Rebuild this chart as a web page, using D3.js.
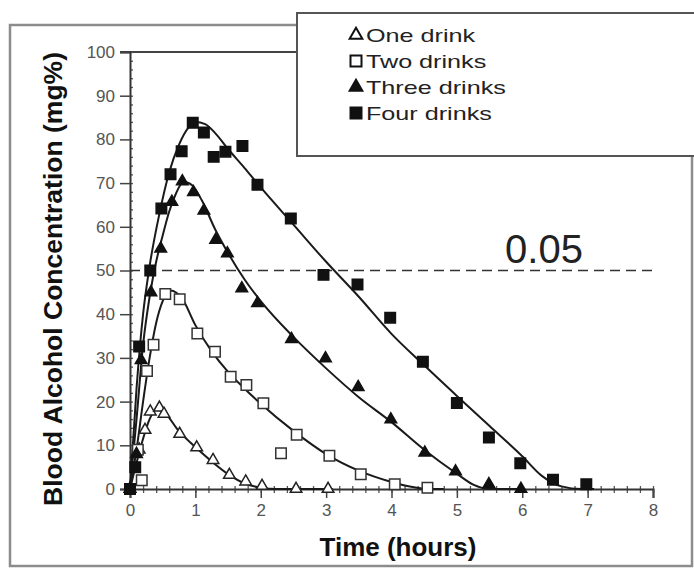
<!DOCTYPE html>
<html><head><meta charset="utf-8">
<script src="https://cdn.jsdelivr.net/npm/d3@7/dist/d3.min.js"></script>
<style>body{margin:0;background:#fff}svg{display:block}</style>
</head><body>
<svg id="c" width="694" height="570"></svg>
<script>
// ---- data ----
const seriesNames = ["One drink", "Two drinks", "Three drinks", "Four drinks"];
const oneDrink = [[0,0],[0.14,9],[0.23,13.5],[0.31,17.7],[0.45,18.6],[0.52,17.2],[0.76,12.6],[1.02,9.5],[1.27,6.6],[1.52,3.2],[1.77,1.7],[2.02,0.7],[2.54,0],[3.03,0]];
const twoDrinks = [[0,0],[0.12,9],[0.18,2],[0.26,27],[0.36,33],[0.54,44.6],[0.76,43.4],[1.03,35.6],[1.3,31.4],[1.54,25.7],[1.78,23.8],[2.04,19.6],[2.31,8.2],[2.55,12.4],[3.05,7.6],[3.53,3.4],[4.05,1.1],[4.55,0.3]];
const threeDrinks = [[0,0],[0.1,8],[0.17,29.5],[0.32,45],[0.47,55],[0.64,65.7],[0.8,70.4],[0.97,67.9],[1.13,63.7],[1.31,57],[1.49,53.9],[1.71,45.9],[1.95,42.5],[2.47,34.3],[2.99,29.9],[3.49,23.3],[3.99,15.9],[4.51,8.3],[4.98,4.0],[5.49,1.1],[5.98,0]];
const fourDrinks = [[0,0],[0.08,5],[0.14,32.6],[0.31,50],[0.48,64.2],[0.62,72],[0.79,77.3],[0.96,83.8],[1.13,81.6],[1.28,76],[1.46,77.2],[1.72,78.5],[1.95,69.6],[2.46,61.9],[2.96,49],[3.48,46.8],[3.98,39.2],[4.48,29.1],[5.0,19.7],[5.49,11.8],[5.97,5.9],[6.47,2.1],[6.98,1.1]];
// fitted curves
const fitOne = [[0,0],[0.1,6],[0.2,11.5],[0.3,16],[0.4,18.2],[0.5,17.8],[0.75,13.2],[1,9.6],[1.25,6.3],[1.5,3.4],[1.75,1.3],[2.0,0.3],[2.25,0],[3.1,0]];
const fitTwo = [[0,0],[0.1,9],[0.2,20],[0.3,30],[0.4,38],[0.5,43],[0.62,45.4],[0.8,43.5],[1.0,37.5],[1.25,31.5],[1.5,26.8],[1.75,23],[2.0,19.5],[2.5,13.3],[3.0,8],[3.5,4.2],[4.0,1.6],[4.3,0.5],[4.6,0],[4.8,0]];
const fitThree = [[0,0],[0.1,16],[0.2,33],[0.3,44],[0.4,52],[0.5,58],[0.6,63.5],[0.7,67.5],[0.82,70.3],[0.95,69.5],[1.1,66],[1.3,59.5],[1.5,54],[1.75,48],[2.0,43],[2.5,34.8],[3.0,27.6],[3.5,21],[4.0,15.3],[4.5,9],[5.0,3.5],[5.25,1],[5.5,0],[6.0,0]];
const fitFour = [[0,0],[0.1,23],[0.2,40],[0.3,51],[0.45,63],[0.6,72.5],[0.75,78.8],[0.9,82.8],[1.0,84],[1.15,83.5],[1.3,81.5],[1.5,77.8],[1.75,73.5],[2.0,69],[2.5,60.5],[3.0,52],[3.5,44],[4.0,35.5],[4.5,28.3],[5.0,21.3],[5.5,14.4],[6.0,7.5],[6.3,3],[6.6,0.6],[6.9,0],[7.1,0]];
const xTicks = [0,1,2,3,4,5,6,7,8];
const yTicks = [0,10,20,30,40,50,60,70,80,90,100];
const thresholdValue = 50;
const thresholdLabel = "0.05";
const xTitle = "Time (hours)";
const yTitle = "Blood Alcohol Concentration (mg%)";

// ---- drawing ----
const svg = d3.select("#c");
const font = "'Liberation Sans', Arial, Helvetica, sans-serif";
const x = d3.scaleLinear().domain([0, 8]).range([130, 653]);
const y = d3.scaleLinear().domain([0, 100]).range([489, 52]);

// outer frame
svg.append("rect").attr("x", 10).attr("y", 25).attr("width", 682).attr("height", 541)
  .attr("fill", "none").attr("stroke", "#8c8c8c").attr("stroke-width", 2.5);

// top line of plot
svg.append("line").attr("x1", 120).attr("x2", x(8)).attr("y1", y(100)).attr("y2", y(100))
  .attr("stroke", "#444").attr("stroke-width", 2);

// y axis
const gy = svg.append("g").attr("transform", `translate(${x(0)},0)`);
gy.call(d3.axisLeft(y).tickValues(d3.range(0, 101, 2)).tickSize(4).tickFormat(""))
  .call(g => g.select(".domain").remove());
gy.selectAll(".tick line").attr("x2", 3).attr("stroke", "#555").attr("stroke-width", 1.3);
const gy2 = svg.append("g").attr("transform", `translate(${x(0)},0)`);
gy2.call(d3.axisLeft(y).tickValues(yTicks).tickSize(10).tickPadding(5));
gy2.select(".domain").attr("stroke", "#333").attr("stroke-width", 2);
gy2.selectAll(".tick line").attr("stroke", "#444").attr("stroke-width", 1.5);
gy2.selectAll(".tick text").attr("font-family", font).attr("font-size", 17).attr("fill", "#555");

// x axis
const gx = svg.append("g").attr("transform", `translate(0,${y(0)})`);
gx.call(d3.axisBottom(x).tickValues(d3.range(0, 8.01, 0.2)).tickSize(4).tickFormat(""))
  .call(g => g.select(".domain").remove());
gx.selectAll(".tick line").attr("y1", -3).attr("stroke", "#555").attr("stroke-width", 1.3);
const gx2 = svg.append("g").attr("transform", `translate(0,${y(0)})`);
gx2.call(d3.axisBottom(x).tickValues(xTicks).tickSize(9).tickPadding(6));
gx2.select(".domain").attr("stroke", "#333").attr("stroke-width", 2);
gx2.selectAll(".tick line").attr("stroke", "#444").attr("stroke-width", 1.5);
gx2.selectAll(".tick text").attr("font-family", font).attr("font-size", 17).attr("fill", "#555");

// threshold
svg.append("line").attr("x1", x(0)).attr("x2", x(8)).attr("y1", y(thresholdValue)).attr("y2", y(thresholdValue))
  .attr("stroke", "#333").attr("stroke-width", 1.5).attr("stroke-dasharray", "10,6");
svg.append("text").attr("x", 544).attr("y", y(thresholdValue) - 8).attr("text-anchor", "middle")
  .attr("font-family", font).attr("font-size", 40).attr("fill", "#222").text(thresholdLabel);

// curves
const line = d3.line().x(d => x(d[0])).y(d => y(d[1])).curve(d3.curveMonotoneX);
[fitOne, fitTwo, fitThree, fitFour].forEach(f => {
  svg.append("path").attr("d", line(f)).attr("fill", "none").attr("stroke", "#1a1a1a").attr("stroke-width", 2);
});

// markers
const tri = d3.symbol().type(d3.symbolTriangle).size(58);
const sq = d3.symbol().type(d3.symbolSquare).size(110);
const styles = [
  {data: oneDrink, sym: tri, fill: "#fff", stroke: "#222"},
  {data: twoDrinks, sym: sq, fill: "#fff", stroke: "#333"},
  {data: threeDrinks, sym: tri, fill: "#111", stroke: "#111"},
  {data: fourDrinks, sym: sq, fill: "#111", stroke: "#111"}
];
styles.forEach(s => {
  svg.append("g").selectAll("path").data(s.data).join("path")
    .attr("transform", d => `translate(${x(d[0])},${y(d[1])})`)
    .attr("d", s.sym()).attr("fill", s.fill).attr("stroke", s.stroke).attr("stroke-width", 1.5);
});

// axis titles
svg.append("text").attr("x", 398).attr("y", 556).attr("text-anchor", "middle")
  .attr("font-family", font).attr("font-weight", "bold").attr("font-size", 26).attr("fill", "#111").text(xTitle);
svg.append("text").attr("transform", "translate(62,279) rotate(-90)").attr("text-anchor", "middle")
  .attr("font-family", font).attr("font-weight", "bold").attr("font-size", 26.5).attr("fill", "#111").text(yTitle);

// legend
svg.append("rect").attr("x", 297).attr("y", 13).attr("width", 420).attr("height", 143)
  .attr("fill", "#fff").attr("stroke", "#555").attr("stroke-width", 2);
const ltri = d3.symbol().type(d3.symbolTriangle).size(70);
const lsq = d3.symbol().type(d3.symbolSquare).size(121);
const legSyms = [ltri, lsq, ltri, lsq];
const legFill = ["#fff", "#fff", "#111", "#111"];
seriesNames.forEach((n, i) => {
  const cy = 35 + i * 26;
  svg.append("path").attr("transform", `translate(356,${cy})`).attr("d", legSyms[i]())
    .attr("fill", legFill[i]).attr("stroke", "#111").attr("stroke-width", 2);
  svg.append("text").attr("transform", `translate(366,${cy + 6.5}) scale(1.36,1)`)
    .attr("font-family", font).attr("font-size", 18.5).attr("fill", "#222").text(n);
});
</script>
</body></html>
